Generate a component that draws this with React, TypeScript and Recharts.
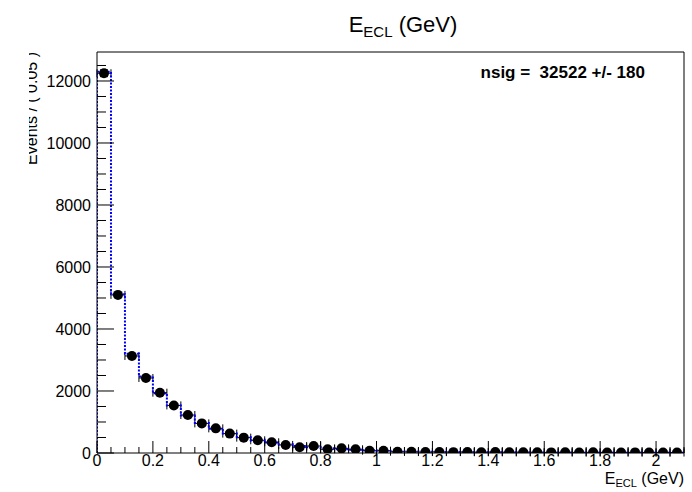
import React from 'react';
import {
  ComposedChart,
  Line,
  Scatter,
  ErrorBar,
  XAxis,
  YAxis,
  ReferenceLine,
} from 'recharts';

// Binning: 42 bins of 0.05 GeV from 0 to 2.1
const BIN_WIDTH = 0.05;
const X_MAX = 2.1;
const Y_MAX = 12935;

// Observed events per bin
const eventCounts = [
  12250, 5100, 3130, 2420, 1945, 1535, 1225, 955, 795, 625,
  495, 410, 345, 260, 185, 225, 120, 150, 120, 75,
  75, 42, 38, 30, 35, 28, 32, 25, 30, 22,
  26, 24, 20, 22, 18, 21, 19, 17, 20, 16,
  18, 15,
];

// Fitted pdf, integrated per bin
const fitCounts = [
  12300, 5120, 3200, 2470, 1930, 1530, 1210, 970, 780, 630,
  510, 415, 340, 280, 225, 185, 150, 125, 105, 85,
  70, 58, 48, 40, 34, 29, 26, 24, 22, 21,
  20, 19, 19, 18, 18, 18, 17, 17, 17, 17,
  16, 16,
];

const xTicks = Array.from({ length: 43 }, (_, k) => Math.round(k * BIN_WIDTH * 100) / 100);
const yTicks = Array.from({ length: 26 }, (_, k) => k * 500);

const pointData = eventCounts.map((n, k) => ({
  x: (k + 0.5) * BIN_WIDTH,
  y: n,
  ex: BIN_WIDTH / 2,
  ey: Math.sqrt(n),
}));

// step outline: rises from zero at the left edge, then one level per bin
const fitData = [
  { x: 0, f: 0 },
  ...fitCounts.map((f, k) => ({ x: k * BIN_WIDTH, f })),
  { x: X_MAX, f: fitCounts[fitCounts.length - 1] },
];

const FONT = '"Liberation Sans", Arial, Helvetica, sans-serif';

const XTick = (props: any) => {
  const { x, y, payload, index } = props;
  const major = index % 4 === 0;
  return (
    <g>
      <line x1={x} x2={x} y1={y} y2={y - (major ? 12 : 6)} stroke="#000" strokeWidth={1} />
      {major && (
        <text x={x} y={y + 13} textAnchor="middle" fontSize={16} fontFamily={FONT} fill="#000">
          {String(payload.value)}
        </text>
      )}
    </g>
  );
};

const YTick = (props: any) => {
  const { x, y, payload } = props;
  const major = payload.value % 2000 === 0;
  const x0 = x + 6;
  return (
    <g>
      <line x1={x0} x2={x0 + (major ? 17 : 9)} y1={y} y2={y} stroke="#000" strokeWidth={1} />
      {major && (
        <text x={x} y={y + 6} textAnchor="end" fontSize={16} fontFamily={FONT} fill="#000">
          {String(payload.value)}
        </text>
      )}
    </g>
  );
};

const Dot = (props: any) => <circle cx={props.cx} cy={props.cy} r={5} fill="#000" />;

export default function App() {
  return (
    <div style={{ position: 'absolute', left: 0, top: 0, width: 692, height: 492, background: '#fff' }}>
      <ComposedChart
        width={692}
        height={492}
        margin={{ top: 52, right: 8, bottom: 0, left: 0 }}
      >
        <defs>
          <clipPath id="ytitle-clip">
            <rect x={29} y={0} width={80} height={492} />
          </clipPath>
        </defs>
        <XAxis
          type="number"
          dataKey="x"
          domain={[0, X_MAX]}
          ticks={xTicks}
          interval={0}
          allowDataOverflow
          height={39}
          tickSize={0}
          tickMargin={0}
          tickLine={false}
          axisLine={{ stroke: '#000', strokeWidth: 1 }}
          tick={<XTick />}
        />
        <YAxis
          type="number"
          dataKey="y"
          domain={[0, Y_MAX]}
          ticks={yTicks}
          interval={0}
          allowDataOverflow
          width={97}
          tickSize={0}
          tickMargin={6}
          tickLine={false}
          axisLine={{ stroke: '#000', strokeWidth: 1 }}
          tick={<YTick />}
        />
        <ReferenceLine y={Y_MAX} stroke="#000" strokeWidth={1} ifOverflow="visible" />
        <ReferenceLine x={X_MAX} stroke="#000" strokeWidth={1} ifOverflow="visible" />
        <Scatter data={pointData} dataKey="y" shape={<Dot />} isAnimationActive={false}>
          <ErrorBar dataKey="ex" direction="x" width={4} stroke="#000" strokeWidth={1} />
          <ErrorBar dataKey="ey" direction="y" width={4} stroke="#000" strokeWidth={1} />
        </Scatter>
        <Line
          data={fitData}
          dataKey="f"
          type="stepAfter"
          stroke="#0000ff"
          strokeWidth={2}
          strokeDasharray="2 1.5"
          dot={false}
          activeDot={false}
          isAnimationActive={false}
        />

        <text x={403} y={32} textAnchor="middle" fontSize={22} fontFamily={FONT} fill="#000">
          E
          <tspan fontSize={15} dy={5}>ECL</tspan>
          <tspan dy={-5}> (GeV)</tspan>
        </text>
        <text
          x={645}
          y={78}
          textAnchor="end"
          fontSize={17}
          fontWeight="bold"
          fontFamily={FONT}
          fill="#000"
          xmlSpace="preserve"
        >
          {'nsig =\u00a0\u00a032522 +/- 180'}
        </text>
        <text x={684} y={484} textAnchor="end" fontSize={16} fontFamily={FONT} fill="#000">
          E
          <tspan fontSize={11} dy={3}>ECL</tspan>
          <tspan dy={-3}> (GeV)</tspan>
        </text>
        <g clipPath="url(#ytitle-clip)">
          <text
            x={37}
            y={52}
            transform="rotate(-90, 37, 52)"
            textAnchor="end"
            fontSize={16}
            fontFamily={FONT}
            fill="#000"
          >
            Events / ( 0.05 )
          </text>
        </g>
      </ComposedChart>
    </div>
  );
}
